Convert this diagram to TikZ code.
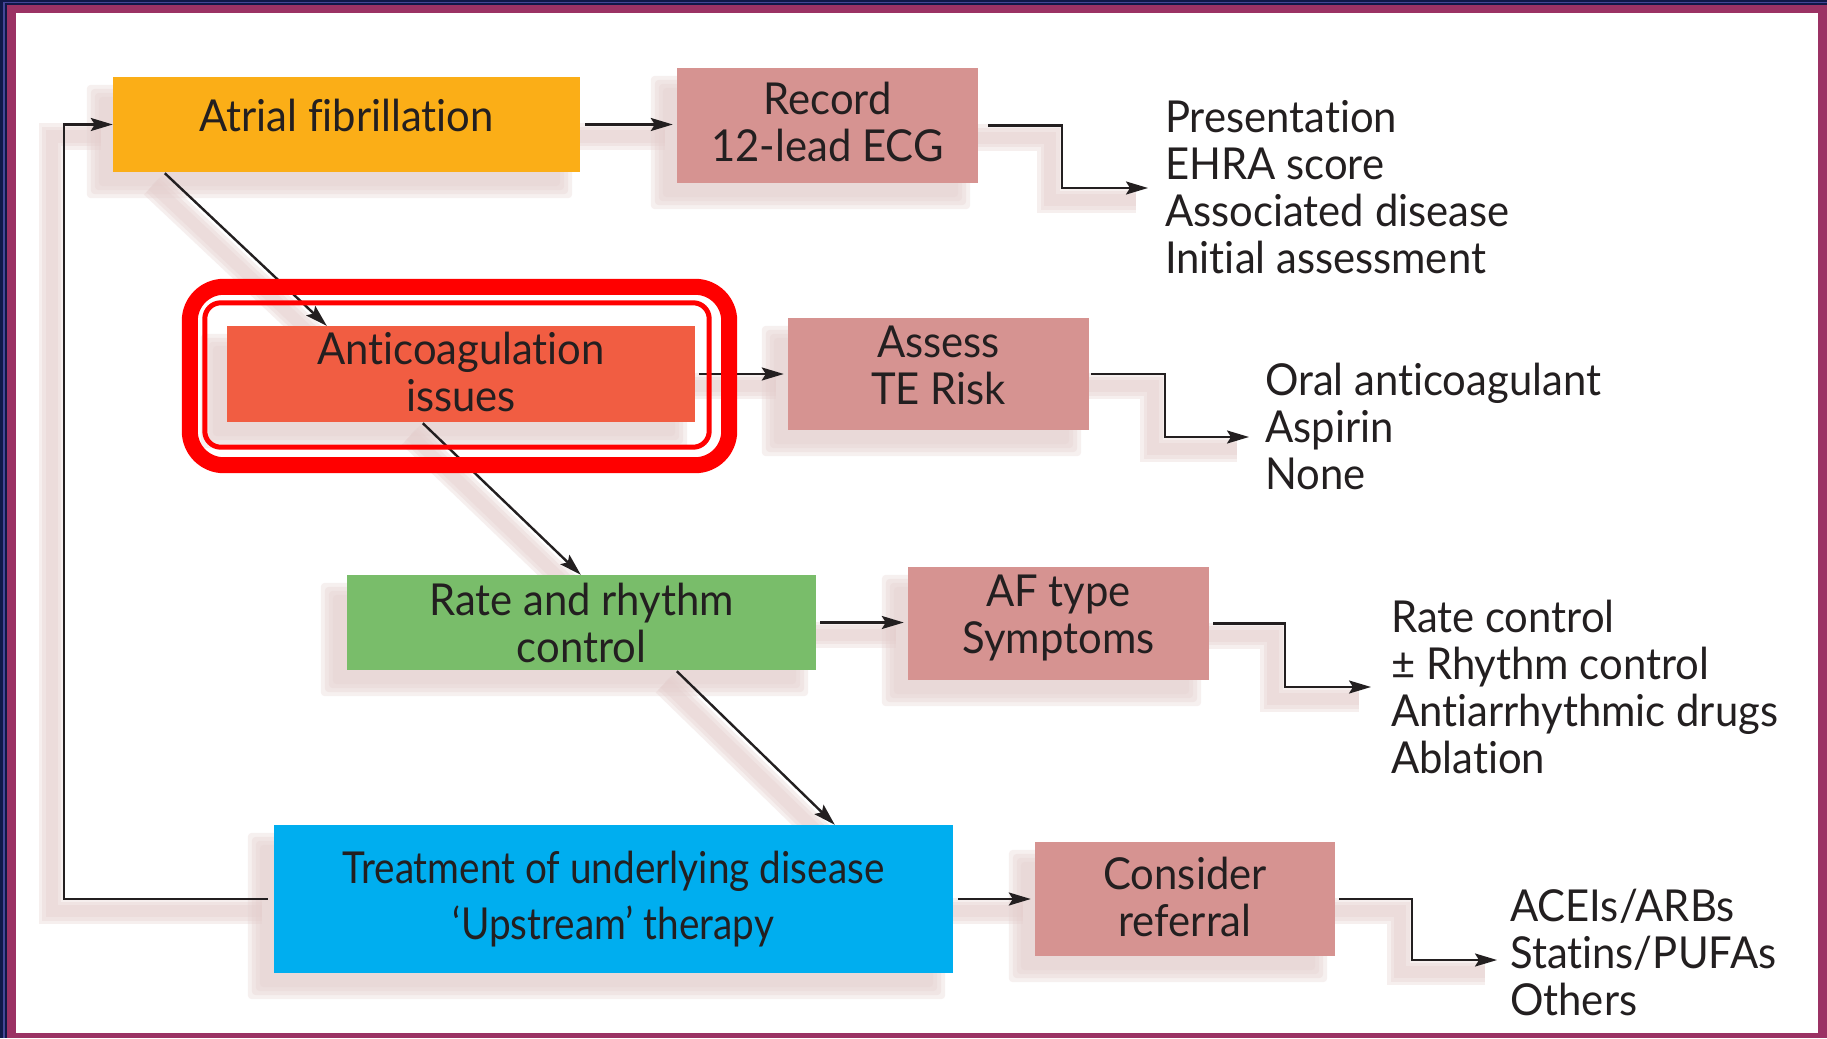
\documentclass[tikz,border=0pt]{standalone}
\usepackage{fontspec}
\setmainfont{Lato}[Ligatures=NoCommon, FakeStretch=0.95]
\newfontfamily\narrowlato{Lato}[Ligatures=NoCommon, FakeStretch=0.88]
\usetikzlibrary{arrows.meta,calc}

\pgfdeclarelayer{frame}
\pgfdeclarelayer{shade}
\pgfsetlayers{frame,shade,main}

\definecolor{navy}{RGB}{16,24,72}
\definecolor{edgeblue}{RGB}{70,70,150}
\definecolor{maroon}{RGB}{155,50,100}
\definecolor{ink}{RGB}{35,31,32}
\definecolor{afyellow}{RGB}{251,174,23}
\definecolor{mauve}{RGB}{214,147,145}
\definecolor{coral}{RGB}{241,93,66}
\definecolor{leaf}{RGB}{121,189,106}
\definecolor{sky}{RGB}{0,174,239}
\definecolor{blush}{RGB}{228,206,205}
\definecolor{ringred}{RGB}{255,0,0}

\newcommand\txtfont{\fontsize{44}{47}\selectfont}
\newcommand\widefont{\narrowlato\fontsize{44}{56}\selectfont}

\tikzset{
  box/.style={rectangle, inner sep=0pt, align=center, text=ink, font=\txtfont},
  wide/.style={box, minimum width=468pt, minimum height=96pt},
  small/.style={box, fill=mauve, minimum width=301pt, minimum height=114pt},
  outcome/.style={inner sep=0pt, align=left, text=ink, font=\txtfont, anchor=west},
  link/.style={draw=ink, line width=2.4pt, -{Stealth[length=22pt,width=13pt,inset=4pt]}},
  wireshade/.style={draw=blush, opacity=0.32, line cap=butt},
}

% soft drop shadow under a box, offset down and to the left
\newcommand\boxshade[1]{%
  \begin{pgfonlayer}{shade}
    \foreach \g in {9,5,1,-3}{%
      \fill[blush, fill opacity=0.3, rounded corners=4pt]
        ($(#1.north west)+(-17,17)+\g*(-1,-1)$) rectangle
        ($(#1.south east)+(-17,17)+\g*(1,1)$);}
  \end{pgfonlayer}}

% connector with its own soft shadow band
\newcommand\wire[2][]{%
  \begin{pgfonlayer}{shade}
    \begin{scope}[transform canvas={xshift=-12pt,yshift=-12pt}]
      \foreach \w in {26,19,12}{\draw[wireshade, line width=\w pt] #2;}
    \end{scope}
  \end{pgfonlayer}
  \draw[link,#1] #2;}

\begin{document}
\begin{tikzpicture}[x=1pt,y=-1pt]
\useasboundingbox (0,0) rectangle (1827,1038);

% page frame
\begin{pgfonlayer}{frame}
  \fill[navy] (0,0) rectangle (1827,1038);
  \draw[edgeblue, line width=1.5pt] (4,1038) -- (4,2.5) -- (1827,2.5);
  \fill[maroon] (7,5) rectangle (1827,1038);
  \fill[white] (16,13) rectangle (1818,1033);
\end{pgfonlayer}

% main flow boxes
\node[wide, fill=afyellow, minimum width=467pt, minimum height=95pt, text depth=18pt] (af) at (346.5,124.5) {Atrial fibrillation};
\node[wide, fill=coral, text depth=5pt] (anti) at (461,374) {Anticoagulation\\issues};
\node[wide, fill=leaf, minimum width=469pt, minimum height=95pt] (rate) at (581.5,622.5) {Rate and rhythm\\control};
\node[box, font=\widefont, fill=sky, minimum width=679pt, minimum height=148pt] (treat) at (613.5,899) {Treatment of underlying disease\\‘Upstream’ therapy};

% action boxes
\node[small, minimum height=115pt, text depth=7pt] (ecg) at (827.5,125.5) {Record\\12-lead ECG};
\node[small, minimum height=112pt, text depth=18pt] (te) at (938.5,374) {Assess\\TE Risk};
\node[small, minimum height=113pt, text depth=18pt] (aft) at (1058.5,623.5) {AF type\\Symptoms};
\node[small, minimum width=300pt, text depth=4pt] (ref) at (1185,899) {Consider\\referral};

\foreach \b in {af,anti,rate,treat,ecg,te,aft,ref}{\boxshade{\b}}

% outcome lists
\node[outcome] (out1) at (1165,187.5) {Presentation\\EHRA score\\Associated disease\\Initial assessment};
\node[outcome] (out2) at (1265,426) {Oral anticoagulant\\Aspirin\\None};
\node[outcome] (out3) at (1391,687) {Rate control\\± Rhythm control\\Antiarrhythmic drugs\\Ablation};
\node[outcome] (out4) at (1510,952) {ACEIs/ARBs\\Statins/PUFAs\\Others};

\coordinate (t1) at (1148,188);
\coordinate (t2) at (1249,437);
\coordinate (t3) at (1371,687);
\coordinate (t4) at (1497,960);

% feedback loop
\wire[shorten <=6pt]{(treat.west) -- ++(-210,0) |- (af.west)}

% main sequence
\wire{($(af.south west)+(52,1)$) -- ($(anti.north west)+(100,0)$)}
\wire{($(anti.south west)+(196,1)$) -- ($(rate.north west)+(234,0)$)}
\wire{($(rate.south west)+(330,1)$) -- ($(treat.north west)+(561,0)$)}

% actions
\wire[shorten <=5pt, shorten >=4pt]{(af.east) -- (af.east -| ecg.west)}
\wire[shorten <=4pt, shorten >=4pt]{(anti.east) -- (anti.east -| te.west)}
\wire[shorten <=4pt, shorten >=4pt]{(rate.east) -- (rate.east -| aft.west)}
\wire[shorten <=5pt, shorten >=4pt]{(treat.east) -- (treat.east -| ref.west)}

% outcomes
\wire[shorten <=10pt]{(ecg.east) -- ++(84,0) |- (t1)}
\wire[shorten <=2pt]{(te.east) -- ++(76,0) |- (t2)}
\wire[shorten <=4pt]{(aft.east) -- ++(76,0) |- (t3)}
\wire[shorten <=4pt]{(ref.east) -- ++(77,0) |- (t4)}

% highlight ring round the anticoagulation step
\draw[ringred, line width=16pt, rounded corners=34pt]
  ($(anti.north west)+(-37,-39)$) rectangle ($(anti.south east)+(34,43)$);
\draw[ringred, line width=5pt, rounded corners=16pt]
  ($(anti.north west)+(-22,-23)$) rectangle ($(anti.south east)+(14,25)$);
\end{tikzpicture}
\end{document}
